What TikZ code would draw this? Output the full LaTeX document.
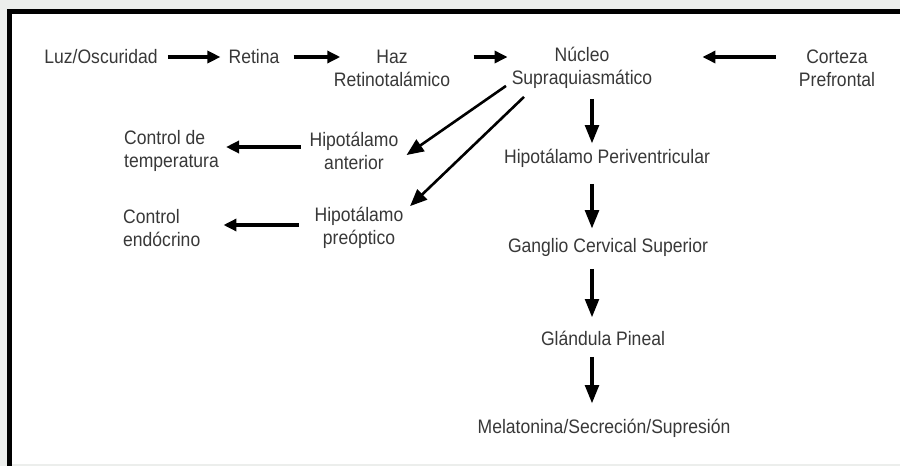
\documentclass[tikz,border=0pt]{standalone}
\usepackage{fontspec}
\setmainfont{Liberation Sans}[FakeStretch=0.9]
\usetikzlibrary{arrows.meta,calc,positioning}
\definecolor{fondo}{HTML}{ECEEEC}
\definecolor{texto}{HTML}{383838}
\tikzset{
  txt/.style={inner sep=0pt, text=texto, align=center, font=\fontsize{19.5}{23}\selectfont},
  flecha/.style={-{Triangle[length=13pt,width=12pt]}, line width=4.8pt, black},
  bajada/.style={-{Triangle[length=19pt,width=13pt]}, line width=4.8pt, black},
  diag/.style={-{Triangle[length=17pt,width=14pt]}, line width=2.6pt, black}
}

\begin{document}
\begin{tikzpicture}[x=1pt,y=-1pt]
  \useasboundingbox (0,0) rectangle (900,466);
  \fill[fondo] (0,0) rectangle (900,466);
  \fill[white] (9.5,11.7) rectangle (900,464);
  \draw[line width=4.5pt] (9.5,466)--(9.5,11.7)--(900,11.7);
  % fila superior
  \node[txt] (luz) at (101,57) {Luz/Oscuridad};
  \node[txt] (retina) at (254,57) {Retina};
  \node[txt] (haz) at (392,68) {Haz\\Retinotalámico};
  \node[txt] (nucleo) at (582,68) {Núcleo\\Supraquiasmático};
  \node[txt] (corteza) at (837,68) {Corteza\\Prefrontal};
  % rama izquierda
  \node[txt] (hant) at (354,151) {Hipotálamo\\anterior};
  \node[txt,anchor=west,align=left] (ctemp) at (124,151) {Control de\\temperatura};
  \node[txt] (hpre) at (359,228) {Hipotálamo\\preóptico};
  \node[txt,anchor=west,align=left] (cendo) at (123,228) {Control\\endócrino};
  % columna central
  \node[txt] (hperi) at (607,158) {Hipotálamo Periventricular};
  \node[txt] (ganglio) at (608,247) {Ganglio Cervical Superior};
  \node[txt] (pineal) at (603,338) {Glándula Pineal};
  \node[txt] (melat) at (604,428) {Melatonina/Secreción/Supresión};
  \coordinate (col) at (592,0);
  \draw[flecha,shorten <=10pt,shorten >=8pt] (luz) -- (retina);
  \draw[flecha,shorten <=14pt,shorten >=-6.5pt] (retina) -- (haz.west |- retina);
  \draw[flecha,shorten <=23.5pt,shorten >=4pt] (haz.east |- retina) -- (nucleo.west |- retina);
  \draw[flecha,shorten <=23pt,shorten >=50pt] (corteza.west |- retina) -- (nucleo.east |- retina);
  \draw[flecha,shorten <=8.5pt,shorten >=7pt] ([yshift=4pt]hant.west) -- ([yshift=4pt]hant.west -| ctemp.east);
  \draw[flecha,shorten <=15.5pt,shorten >=23pt] ([yshift=3pt]hpre.west) -- ([yshift=3pt]hpre.west -| cendo.east);
  \draw[diag] ([shift={(-76pt,3pt)}]nucleo.south) -- ([shift={(8pt,-4pt)}]hant.east);
  \draw[diag] ([shift={(-58pt,-8pt)}]nucleo.south) -- ([shift={(6.5pt,1pt)}]hpre.north east);
  \draw[bajada,shorten <=10pt,shorten >=4.5pt] (nucleo.south -| col) -- (hperi.north -| col);
  \draw[bajada,shorten <=16.5pt,shorten >=8.5pt] (hperi.south -| col) -- (ganglio.north -| col);
  \draw[bajada,shorten <=12.5pt,shorten >=12.5pt] (ganglio.south -| col) -- (pineal.north -| col);
  \draw[bajada,shorten <=11.5pt,shorten >=14.5pt] (pineal.south -| col) -- (melat.north -| col);
\end{tikzpicture}
\end{document}
